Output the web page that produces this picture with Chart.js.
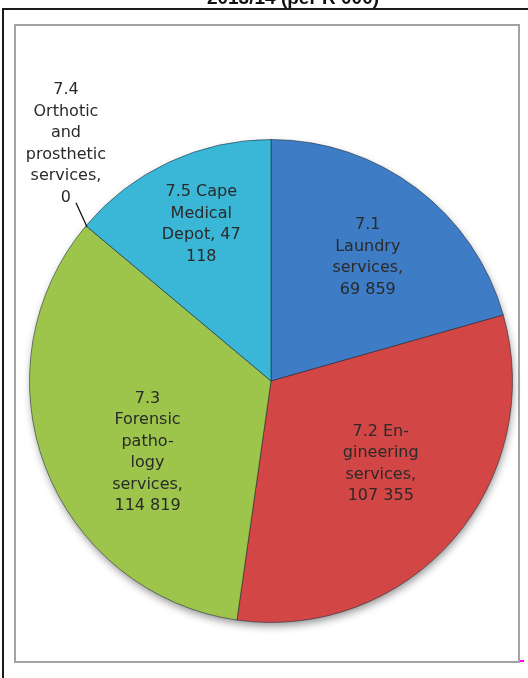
<!DOCTYPE html>
<html>
<head>
<meta charset="utf-8">
<style>
  html, body { margin: 0; padding: 0; background: #ffffff; }
  #wrap { position: relative; width: 528px; height: 678px; overflow: hidden; }
  canvas { display: block; }
</style>
<script src="https://cdn.jsdelivr.net/npm/chart.js@4.4.1/dist/chart.umd.min.js"></script>
</head>
<body>
<div id="wrap"><canvas id="pie" width="528" height="678"></canvas></div>
<script>
// Budget per programme item, 2013/14 (R 000)
const title = '2013/14 (per R 000)';
const categories = [
  '7.1 Laundry services',
  '7.2 En\u00ADgineering services',
  '7.3 Forensic patho\u00ADlogy services',
  '7.4 Orthotic and prosthetic services',
  '7.5 Cape Medical Depot'
];
const values = [69859, 107355, 114819, 0, 47118];
const colors = ['#3e7cc6', '#d24646', '#9dc44b', '#3ab6d6', '#3ab6d6'];

// Label layout: words per line, radial position (fraction of radius, angle shift in degrees)
const labelLayout = [
  { lines: [1, 1, 1, 2], r: 0.65, shift: 1 },
  { lines: [2, 1, 1, 2], r: 0.57, shift: -4 },
  { lines: [1, 1, 1, 1, 1, 2], r: 0.59, shift: -9 },
  { lines: [1, 1, 1, 1, 1, 1], outside: true },
  { lines: [2, 1, 2, 1], r: 0.71, shift: 1 }
];

const fmt = v => String(v).replace(/\B(?=(\d{3})+(?!\d))/g, ' ');

function tokens(text) {
  const out = [];
  text.split(' ').forEach(w => {
    const parts = w.split('\u00AD');
    parts.forEach((p, i) => out.push({ t: p, soft: i < parts.length - 1 }));
  });
  return out;
}

function labelLines(i) {
  const toks = tokens(categories[i] + ', ' + fmt(values[i]));
  const res = [];
  let k = 0;
  labelLayout[i].lines.forEach(n => {
    let s = '';
    for (let j = 0; j < n && k < toks.length; j++, k++) {
      const tk = toks[k];
      s += tk.t;
      if (tk.soft) s += (j === n - 1) ? '-' : '';
      else if (j < n - 1) s += ' ';
    }
    res.push(s);
  });
  return res;
}

const LABEL_FONT = '16px "DejaVu Sans", sans-serif';
const LINE_H = 21.5;

const framePlugin = {
  id: 'frame',
  beforeDraw(chart) {
    const ctx = chart.ctx;
    ctx.save();
    ctx.fillStyle = '#ffffff';
    ctx.fillRect(0, 0, chart.width, chart.height);
    // outer black rules
    ctx.fillStyle = '#1e1a1a';
    ctx.fillRect(2, 8, chart.width - 2, 2);
    ctx.fillRect(2, 8, 2, chart.height - 8);
    // chart frame
    ctx.strokeStyle = '#a3a3a7';
    ctx.lineWidth = 2;
    ctx.strokeRect(15, 25, 504, 637);
    ctx.fillStyle = '#ff00ff';
    ctx.fillRect(520, 660, 4, 2);
    // title (clipped by the page top)
    ctx.fillStyle = '#111111';
    ctx.font = 'bold 19px "Liberation Sans", Arial, sans-serif';
    ctx.textAlign = 'center';
    ctx.textBaseline = 'alphabetic';
    ctx.fillText(title, 293, 4);
    ctx.restore();
  },
  beforeDatasetsDraw(chart) {
    const arc = chart.getDatasetMeta(0).data[0];
    if (!arc) return;
    const ctx = chart.ctx;
    ctx.save();
    ctx.shadowColor = 'rgba(0,0,0,0.45)';
    ctx.shadowBlur = 9;
    ctx.shadowOffsetY = 4;
    ctx.shadowOffsetX = 1;
    ctx.fillStyle = '#888';
    ctx.beginPath();
    ctx.arc(arc.x, arc.y, arc.outerRadius - 1, 0, Math.PI * 2);
    ctx.fill();
    ctx.restore();
  }
};

const labelPlugin = {
  id: 'sliceLabels',
  afterDatasetsDraw(chart) {
    const meta = chart.getDatasetMeta(0);
    const ctx = chart.ctx;
    ctx.save();
    ctx.font = LABEL_FONT;
    ctx.fillStyle = '#2a2a2a';
    ctx.textAlign = 'center';
    ctx.textBaseline = 'middle';
    meta.data.forEach((el, i) => {
      const lay = labelLayout[i];
      const lines = labelLines(i);
      const R = el.outerRadius;
      let cx, cy;
      if (lay.outside) {
        const a = el.startAngle;
        const ex = el.x + Math.cos(a) * R, ey = el.y + Math.sin(a) * R;
        const lx = ex - 10, ly = ey - 23;
        ctx.strokeStyle = '#111';
        ctx.lineWidth = 1.3;
        ctx.beginPath();
        ctx.moveTo(ex + 1, ey + 1);
        ctx.lineTo(lx, ly);
        ctx.stroke();
        cx = lx - 10;
        cy = ly - 5 - (lines.length - 1) * LINE_H / 2;
      } else {
        const mid = (el.startAngle + el.endAngle) / 2 + lay.shift * Math.PI / 180;
        cx = el.x + Math.cos(mid) * R * lay.r;
        cy = el.y + Math.sin(mid) * R * lay.r;
      }
      const y0 = cy - (lines.length - 1) * LINE_H / 2;
      lines.forEach((s, j) => ctx.fillText(s, cx, y0 + j * LINE_H));
    });
    ctx.restore();
  }
};

function sliceFill(context) {
  const chart = context.chart;
  const el = chart.getDatasetMeta(0).data[context.dataIndex];
  const base = colors[context.dataIndex];
  if (!el || !el.outerRadius) return base;
  const g = chart.ctx.createRadialGradient(el.x, el.y, 0, el.x, el.y, el.outerRadius);
  const c = Chart.helpers.color;
  g.addColorStop(0, c(base).lighten(0.06).rgbString());
  g.addColorStop(0.88, base);
  g.addColorStop(0.97, c(base).darken(0.1).rgbString());
  g.addColorStop(1, c(base).darken(0.25).rgbString());
  return g;
}

new Chart(document.getElementById('pie'), {
  type: 'pie',
  data: {
    labels: categories,
    datasets: [{
      data: values,
      backgroundColor: sliceFill,
      borderColor: 'rgba(30,40,50,0.55)',
      borderWidth: 1
    }]
  },
  options: {
    responsive: false,
    animation: false,
    events: [],
    layout: { padding: { left: 29, right: 15, top: 139, bottom: 55 } },
    plugins: { legend: { display: false }, tooltip: { enabled: false } }
  },
  plugins: [framePlugin, labelPlugin]
});
</script>
</body>
</html>
